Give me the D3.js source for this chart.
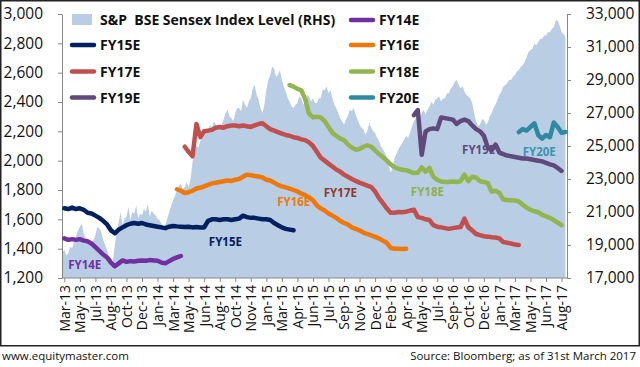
<!DOCTYPE html>
<html>
<head>
<meta charset="utf-8">
<script src="https://cdn.jsdelivr.net/npm/d3@7"></script>
<style>
body { margin: 0; background: #fff; }
svg { display: block; font-family: "Open Sans", "Noto Sans", sans-serif; }
</style>
</head>
<body>
<script>
// ---------- DATA ----------
const xLabels = ["Mar-13","May-13","Jul-13","Aug-13","Oct-13","Dec-13","Jan-14","Mar-14","May-14","Jun-14",
  "Aug-14","Oct-14","Nov-14","Jan-15","Mar-15","Apr-15","Jun-15","Jul-15","Sep-15","Nov-15","Dec-15",
  "Feb-16","Apr-16","May-16","Jul-16","Sep-16","Oct-16","Dec-16","Jan-17","Mar-17","May-17","Jun-17","Aug-17"];
const leftTicks = [1200,1400,1600,1800,2000,2200,2400,2600,2800,3000];
const rightTicks = [17000,19000,21000,23000,25000,27000,29000,31000,33000];
const step = 0.25;        // forecast line step, in x-label units
const sensexStep = 0.125; // index step, in x-label units

const sensexStart = -0.125;
const sensex = [18600,
  18700,18400,18500,18900,18800,19200,19500,19900,
  20100,20300,19700,19400,19200,19100,19000,19300,
  19600,20100,20000,19800,19300,19000,18700,18300,
  18200,18000,19000,19800,20400,21000,20200,20600,
  20700,21300,20500,21000,20900,21400,20600,20900,
  20800,21200,21000,21500,20700,21100,20900,20800,
  20600,20500,20300,20100,20200,20600,21000,21400,
  21700,22000,22300,22600,22700,22400,22500,22800,
  22500,23000,24000,24600,25000,24900,25300,25500,
  25600,25900,25800,26300,26100,26500,26300,26000,
  26000,26300,26600,27000,27200,26800,26700,26500,
  27000,27300,27300,27100,27800,27500,27300,27700,
  27900,28500,28700,28100,27800,27300,27000,27500,
  28400,29000,29300,29800,29700,29200,29300,29600,
  29000,28600,28300,27900,27700,27400,27300,27500,
  27600,28000,27900,27500,27700,28100,28000,27700,
  27900,27600,27600,27900,27900,28400,28400,28600,
  28200,28400,27900,27500,27300,27000,26700,26500,
  26300,26600,26800,27200,27100,27300,26900,26600,
  26300,26100,26000,25700,25900,26400,26100,25900,
  25800,25500,25300,25000,24800,24600,24300,23800,
  23400,23700,24300,24500,24800,25000,25200,25400,
  25600,25500,25800,26200,26500,26700,26800,26600,
  27000,27200,26900,27200,27400,27700,27500,27800,
  27900,28000,27700,27900,27900,28200,28200,28500,
  28600,28900,29000,28700,28500,28600,28300,28100,
  28000,27900,27600,27000,26500,26200,26300,26600,
  26600,26300,26400,26800,27000,27300,27500,27800,
  28100,28300,28600,28700,28800,29000,29000,29200,
  29300,29500,29600,29800,29900,30100,30400,30700,
  30800,30900,31200,31100,31300,31500,31500,31700,
  31700,31900,31900,32100,32200,32600,32600,32300,
  31900,31800,31600];

const fy14EStart = 0;
const fy14E = [1470,1460,1465,1460, 1465,1455,1450,1435, 1410,1385,1360,1340,
  1305,1280,1300,1320, 1310,1315,1312,1318, 1320,1318,1322,1320, 1318,1305,1300,1315,
  1330,1340,1350];

const fy15EStart = 0;
const fy15E = [1675,1670,1680,1670, 1675,1665,1645,1640, 1625,1610,1590,1565,
  1525,1505,1530,1545, 1560,1570,1575,1570, 1575,1565,1560,1555, 1550,1545,1540,1550,
  1555,1552,1550,1548, 1550,1545,1548,1545, 1545,1590,1600,1600, 1595,1600,1600,1595,
  1600,1605,1625,1615, 1610,1610,1605,1600, 1600,1595,1575,1560, 1545,1535,1530,1525];

const fy16EStart = 7.25;
const fy16E = [1805,1795,1780, 1785,1795,1810,1815, 1825,1835,1845,1850,
  1855,1860,1865,1862, 1870,1875,1890,1905, 1900,1895,1892,1885, 1870,1865,1850,1835,
  1825,1818,1810,1800, 1790,1775,1765,1750, 1730,1695,1675,1660, 1640,1625,1610,1590,
  1575,1565,1545,1535, 1525,1510,1500,1490, 1480,1470,1455,1440, 1405,1400,1400,1398, 1400];

const fy17EStart = 7.75;
const fy17E = [2095, 2060,2030,2250,2160, 2200,2205,2210,2225, 2230,2225,2235,2240,
  2240,2235,2240,2235, 2230,2240,2250,2255, 2235,2215,2205,2195, 2185,2175,2170,2160,
  2155,2145,2140,2125, 2100,2060,2020,2000, 1980,1960,1940,1925, 1905,1890,1875,1862,
  1850,1840,1830,1820, 1790,1745,1710,1675, 1645,1645,1650,1648, 1652,1660,1665,1615,
  1610,1600,1595,1560, 1550,1545,1540,1535, 1540,1545,1548,1605, 1545,1525,1500,1492,
  1485,1482,1478,1476, 1470,1445,1440,1435, 1428,1425];

const fy18EStart = 14.5;
const fy18E = [2515,2505, 2490,2480,2420,2320, 2295,2300,2295,2270, 2230,2190,2170,2150,
  2140,2110,2090,2075, 2080,2095,2105,2095, 2070,2045,2025,2000, 1975,1955,1945,1938,
  1935,1925,1915,1918, 1955,1925,1950,1890, 1870,1858,1855,1855, 1858,1855,1860,1905,
  1860,1890,1885,1860, 1855,1848,1790,1795, 1780,1735,1732,1730, 1728,1722,1700,1680,
  1665,1655,1648,1630, 1620,1610,1595,1578, 1560];

const fy19EStart = 22.5;
const fy19E = [2310,2345, 2040,2200,2215,2220, 2215,2295,2290,2285, 2280,2250,2270,2280,
  2270,2240,2215,2200, 2170,2090,2070,2110, 2055,2045,2035,2030, 2025,2020,2015,2015,
  2010,2005,2000,1995, 1985,1975,1968,1950, 1930];

const fy20EStart = 29.25;
const fy20E = [2195,2215,2205, 2230,2255,2175,2150, 2175,2160,2260,2230, 2190,2195];

const seriesNames = ["FY14E","FY15E","FY16E","FY17E","FY18E","FY19E","FY20E"];
const seriesColors = ["#7030A0","#002060","#F07808","#C0504D","#92B550","#604A7B","#2E8AA3"];
const labelColors  = ["#7030A0","#002060","#F07808","#8E3A2C","#8DB04C","#604A7B","#3B93B0"];
const seriesStarts = [fy14EStart,fy15EStart,fy16EStart,fy17EStart,fy18EStart,fy19EStart,fy20EStart];
const seriesValues = [fy14E,fy15E,fy16E,fy17E,fy18E,fy19E,fy20E];
// inline label anchor positions: [x-label units, left-axis value]
const labelPos = [[0.25,1262],[9.3,1418],[13.7,1688],[16.7,1755],[22.3,1760],[25.6,2043],[29.5,2032]];

// ---------- CHART ----------
const W = 640, H = 367;
const svg = d3.select("body").append("svg").attr("width", W).attr("height", H);

const plot = {left: 62, right: 567, top: 14, bottom: 278};
const x = d3.scaleLinear().domain([-0.15, 32.35]).range([plot.left, plot.right]);
const yL = d3.scaleLinear().domain([1200, 3000]).range([plot.bottom, plot.top]);
const yR = d3.scaleLinear().domain([17000, 33000]).range([plot.bottom, plot.top]);

// border
svg.append("rect").attr("x", 0.75).attr("y", 0.75).attr("width", 638.5).attr("height", 345)
  .attr("fill", "none").attr("stroke", "#222").attr("stroke-width", 1.5);

// Sensex area
const sx = sensex.map((v, i) => ({i: sensexStart + i * sensexStep, v}));
svg.append("path").datum(sx)
  .attr("fill", "#B9CDE5")
  .attr("d", d3.area().x(d => x(d.i)).y0(yR(17000)).y1(d => yR(d.v)));

// axes
const axisColor = "#868686";
function styleAxis(g) {
  g.selectAll(".domain").attr("stroke", axisColor);
  g.selectAll(".tick line").attr("stroke", axisColor);
  g.selectAll(".tick text").attr("fill", "#111").style("font-family", "'Open Sans', sans-serif");
}
const gL = svg.append("g").attr("transform", `translate(${plot.left},0)`)
  .call(d3.axisLeft(yL).tickValues(leftTicks).tickFormat(d3.format(",")).tickSizeInner(4).tickSizeOuter(0).tickPadding(15));
styleAxis(gL);
gL.selectAll(".tick text").style("font-size", "15.5px");

const gR = svg.append("g").attr("transform", `translate(${plot.right},0)`)
  .call(d3.axisRight(yR).tickValues(rightTicks).tickFormat(d3.format(",")).tickSizeInner(4).tickSizeOuter(0).tickPadding(15));
styleAxis(gR);
gR.selectAll(".tick text").style("font-size", "15.5px");

const gX = svg.append("g").attr("transform", `translate(0,${plot.bottom})`)
  .call(d3.axisBottom(x).tickValues(d3.range(xLabels.length)).tickFormat(i => xLabels[i]).tickSizeInner(4).tickSizeOuter(0));
styleAxis(gX);
gX.select(".domain").attr("d", `M${plot.left},0H${plot.right}`);
gX.selectAll(".tick text")
  .style("font-size", "14px")
  .attr("text-anchor", "end")
  .attr("transform", "rotate(-90)")
  .attr("x", -7).attr("y", 0).attr("dy", "0.35em");

// inline labels (beneath the lines)
svg.append("g").selectAll("text").data(seriesNames).join("text")
  .attr("x", (d, k) => x(labelPos[k][0]))
  .attr("y", (d, k) => yL(labelPos[k][1]))
  .attr("fill", (d, k) => labelColors[k])
  .style("font-size", "11.5px").style("font-weight", "bold")
  .text(d => d);

// forecast lines
const line = d3.line().x(d => x(d.i)).y(d => yL(d.v));
seriesNames.forEach((name, k) => {
  const pts = seriesValues[k].map((v, i) => ({i: seriesStarts[k] + i * step, v}));
  svg.append("path").datum(pts)
    .attr("fill", "none").attr("stroke", seriesColors[k]).attr("stroke-width", 4.5)
    .attr("stroke-linejoin", "round").attr("stroke-linecap", "round")
    .attr("d", line);
});

// legend
const leg = svg.append("g").style("font-size", "14px").style("font-weight", "bold");
leg.append("rect").attr("x", 72).attr("y", 14).attr("width", 20).attr("height", 11).attr("fill", "#B9CDE5");
leg.append("text").attr("x", 100).attr("y", 25).style("white-space", "pre").attr("fill", "#111")
  .text("S&P  BSE Sensex Index Level (RHS)");
const legOrder = [["FY14E", 1, 0], ["FY15E", 0, 1], ["FY16E", 1, 1], ["FY17E", 0, 2], ["FY18E", 1, 2], ["FY19E", 0, 3], ["FY20E", 1, 3]];
const rowY = [20, 45, 71.5, 97.5];
const colX = [72, 351];
legOrder.forEach(([name, col, row]) => {
  const k = seriesNames.indexOf(name);
  leg.append("line").attr("x1", colX[col]).attr("x2", colX[col] + 22)
    .attr("y1", rowY[row]).attr("y2", rowY[row])
    .attr("stroke", seriesColors[k]).attr("stroke-width", 4.5).attr("stroke-linecap", "round");
  leg.append("text").attr("x", colX[col] + 28).attr("y", rowY[row] + 5).attr("fill", "#111").text(name);
});

// footer
svg.append("text").attr("x", 2).attr("y", 360).style("font-size", "11.5px").attr("fill", "#111")
  .text("www.equitymaster.com");
svg.append("text").attr("x", 636).attr("y", 360).attr("text-anchor", "end").style("font-size", "11.5px").attr("fill", "#111")
  .text("Source: Bloomberg; as of 31st March 2017");
</script>
</body>
</html>
